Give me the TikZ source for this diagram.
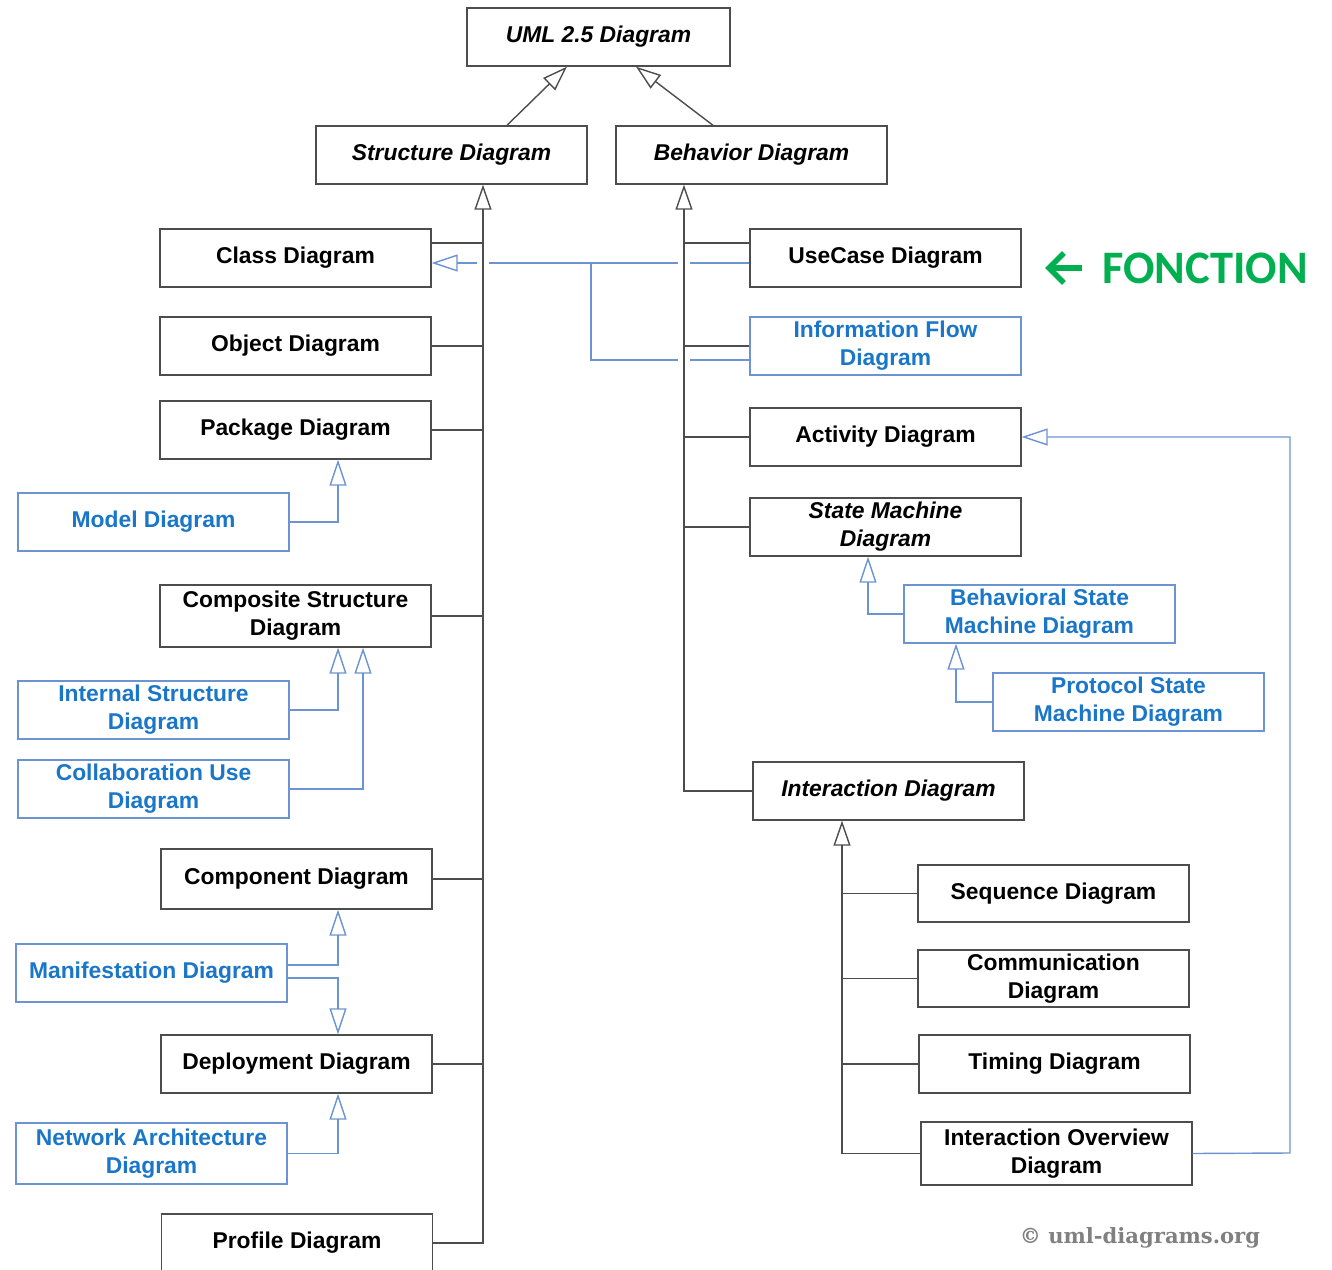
\documentclass[tikz,border=0pt]{standalone}
\usepackage{fontspec}
\setmainfont{Liberation Sans}
\newfontfamily\fnfont{Carlito}
\newfontfamily\orgfont{DejaVu Serif}
\usetikzlibrary{arrows.meta}
\definecolor{boxgray}{RGB}{77,77,77}
\definecolor{umlblue}{RGB}{25,118,200}
\definecolor{linkblue}{RGB}{108,148,210}
\definecolor{fngreen}{RGB}{0,176,80}
\tikzset{
  diag/.style={draw=boxgray, line width=0.8pt, minimum width=5.42cm, minimum height=1.16cm,
    align=center, inner sep=0pt, font=\fontsize{13}{16}\selectfont\bfseries},
  absdiag/.style={diag, font=\fontsize{13}{16}\selectfont\bfseries\itshape},
  newdiag/.style={diag, draw=linkblue, text=umlblue},
  conn/.style={draw=boxgray, line width=0.8pt},
  inh/.style={conn, -{Triangle[open, length=0.5cm, width=0.34cm]}},
  newconn/.style={draw=linkblue, line width=0.8pt},
  newinh/.style={newconn, -{Triangle[open, length=0.52cm, width=0.34cm]}},
  gap/.style={draw=white, line width=3pt},
}
\begin{document}
\begin{tikzpicture}[x=0.02cm, y=-0.02cm]
    \useasboundingbox (0,0) rectangle (1332,1270);
    % top
    \node[absdiag, minimum width=5.26cm] (uml) at (598.5,37) {UML 2.5 Diagram};
    \node[absdiag] (sd) at (451.5,155) {Structure Diagram};
    \node[absdiag] (bd) at (751.5,155) {Behavior Diagram};
    % structure side
    \node[diag] (class) at (295.5,258) {Class Diagram};
    \node[diag] (object) at (295.5,346) {Object Diagram};
    \node[diag] (package) at (295.5,430) {Package Diagram};
    \node[newdiag] (model) at (153.5,522) {Model Diagram};
    \node[diag, minimum height=1.24cm] (composite) at (295.5,616) {Composite Structure\\Diagram};
    \node[newdiag] (internal) at (153.5,710) {Internal Structure\\Diagram};
    \node[newdiag] (collab) at (153.5,789) {Collaboration Use\\Diagram};
    \node[diag, minimum height=1.2cm] (component) at (296.5,879) {Component Diagram};
    \node[newdiag] (manif) at (151.5,973) {Manifestation Diagram};
    \node[diag] (deploy) at (296.5,1064) {Deployment Diagram};
    \node[newdiag, minimum height=1.22cm] (network) at (151.5,1153.5) {Network Architecture\\Diagram};
    \node[diag] (profile) at (297,1243) {Profile Diagram};
    % behavior side
    \node[diag] (usecase) at (885.5,258) {UseCase Diagram};
    \node[newdiag] (infoflow) at (885.5,346) {Information Flow\\Diagram};
    \node[diag] (activity) at (885.5,437) {Activity Diagram};
    \node[absdiag] (state) at (885.5,527) {State Machine\\Diagram};
    \node[newdiag] (bsm) at (1039.5,614) {Behavioral State\\Machine Diagram};
    \node[newdiag] (psm) at (1128.5,702) {Protocol State\\Machine Diagram};
    \node[absdiag] (interaction) at (888.5,791) {Interaction Diagram};
    \node[diag, minimum height=1.14cm] (sequence) at (1053.5,893.5) {Sequence Diagram};
    \node[diag, minimum height=1.14cm] (comm) at (1053.5,978.5) {Communication\\Diagram};
    \node[diag] (timing) at (1054.5,1064) {Timing Diagram};
    \node[diag, minimum height=1.26cm] (iov) at (1056.5,1153.5) {Interaction Overview\\Diagram};
    % note and credit
    \node[anchor=west, text=fngreen, font=\fnfont\fontsize{26.5}{30}\selectfont\bfseries] (fn) at (1096,268) {FONCTION};
    \coordinate (fntail) at (1082,268);
    \coordinate (fntip) at (1045,268);
    \node[text=black!50, font=\orgfont\fontsize{12}{14}\selectfont\bfseries] (org) at (1140,1238) {© uml-diagrams.org};
    \coordinate (st) at (483,1243);
    \coordinate (bt) at (684,792);
    \coordinate (it) at (842,1153);
    \coordinate (ret) at (1290,1153);

    % new (blue) relations first, so trunks cross over them
    \draw[newinh] (usecase.west |- 0,263) -- (class.east |- 0,263);
    \draw[newconn] (infoflow.west |- 0,360) -| (591,263);
    \draw[gap] (477,263) -- (489,263);
    \draw[gap] (678,263) -- (690,263);
    \draw[gap] (678,360) -- (690,360);
    \draw[newinh] (model.east) -| (package.south -| 338,0);
    \draw[newinh] (internal.east) -| (composite.south -| 338,0);
    \draw[newinh] (collab.east) -| (composite.south -| 363,0);
    \draw[newinh] (manif.east |- 0,965) -| (component.south -| 338,0);
    \draw[newinh] (manif.east |- 0,978) -| (deploy.north -| 338,0);
    \draw[newinh] (network.east) -| (deploy.south -| 338,0);
    \draw[newinh] (bsm.west) -| (state.south -| 868,0);
    \draw[newinh] (psm.west) -| (bsm.south -| 956,0);
    \draw[newinh] (iov.east) -- (ret) |- (activity.east);

    % generalizations
    \draw[inh] (sd.north -| 507,0) -- (uml.south -| 567,0);
    \draw[inh] (bd.north -| 713,0) -- (uml.south -| 636,0);
    \draw[inh] (profile.east) -| (sd.south -| st);
    \draw[conn] (class.east |- 0,243) -- (st |- 0,243);
    \draw[conn] (object.east) -- (object.east -| st);
    \draw[conn] (package.east) -- (package.east -| st);
    \draw[conn] (composite.east) -- (composite.east -| st);
    \draw[conn] (component.east) -- (component.east -| st);
    \draw[conn] (deploy.east) -- (deploy.east -| st);
    \draw[inh] (interaction.west) -| (bd.south -| bt);
    \draw[conn] (usecase.west |- 0,243) -- (bt |- 0,243);
    \draw[conn] (infoflow.west) -- (infoflow.west -| bt);
    \draw[conn] (activity.west) -- (activity.west -| bt);
    \draw[conn] (state.west) -- (state.west -| bt);
    \draw[inh] (iov.west) -| (interaction.south -| it);
    \draw[conn] (sequence.west) -- (sequence.west -| it);
    \draw[conn] (comm.west) -- (comm.west -| it);
    \draw[conn] (timing.west) -- (timing.west -| it);

    \draw[fngreen, line width=3.2pt, -{Straight Barb[length=0.3cm, width=0.6cm]}] (fntail) -- (fntip);
\end{tikzpicture}
\end{document}
